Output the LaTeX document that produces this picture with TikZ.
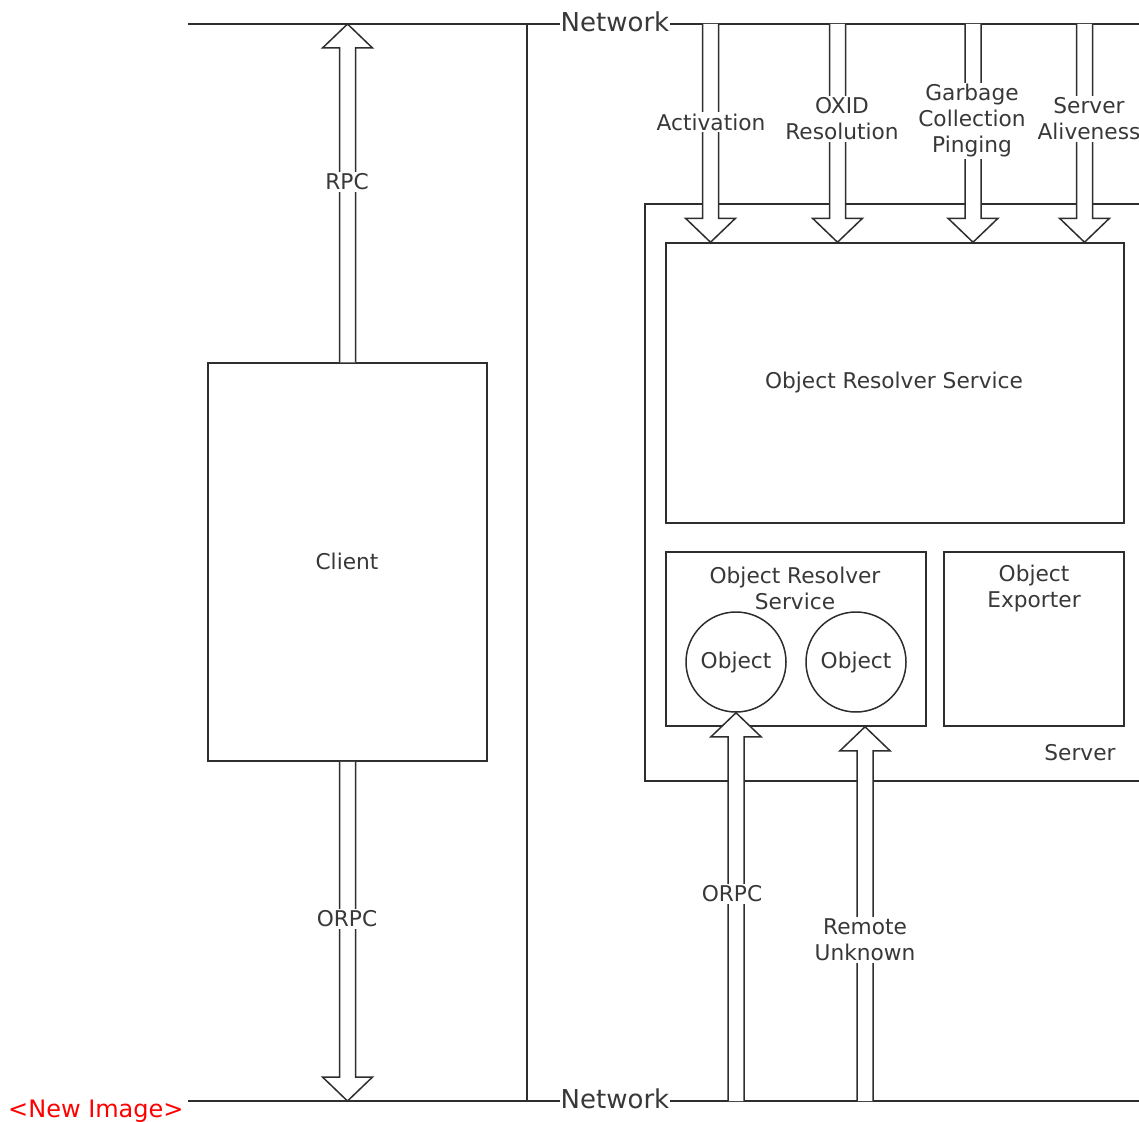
\documentclass[tikz,border=0pt]{standalone}
\usepackage{fontspec}
\setmainfont{DejaVu Sans}
\usetikzlibrary{calc}

\definecolor{ink}{gray}{0.18}
\definecolor{txt}{gray}{0.22}

\tikzset{
  line/.style={draw=ink, line width=1.5pt},
  box/.style={line, fill=white, inner sep=0pt},
  lbl/.style={text=txt, font=\fontsize{21.7}{26}\selectfont, align=center, inner sep=1.5pt},
  lblbg/.style={lbl, fill=white},
  netlbl/.style={text=txt, font=\fontsize{26}{30}\selectfont, fill=white, inner sep=1pt},
  % hollow block arrow from the start point towards a target above it
  blockup/.style={line, fill=white, line join=miter,
    to path={let \p1=(\tikztostart), \p2=(\tikztotarget) in
      (\x1-8pt,\y1) -- (\x1-8pt,\y2-24pt) -- (\x1-25pt,\y2-24pt) -- (\x1,\y2)
      -- (\x1+25pt,\y2-24pt) -- (\x1+8pt,\y2-24pt) -- (\x1+8pt,\y1)}},
  % hollow block arrow from the start point towards a target below it
  blockdown/.style={line, fill=white, line join=miter,
    to path={let \p1=(\tikztostart), \p2=(\tikztotarget) in
      (\x1-8pt,\y1) -- (\x1-8pt,\y2+24pt) -- (\x1-25pt,\y2+24pt) -- (\x1,\y2)
      -- (\x1+25pt,\y2+24pt) -- (\x1+8pt,\y2+24pt) -- (\x1+8pt,\y1)}},
}

\begin{document}
\begin{tikzpicture}[x=1pt, y=-1pt]
  \clip (0,0) rectangle (1139,1121);
  \fill[white] (0,0) rectangle (1139,1121);

  % network rails and divider
  \coordinate (ntl) at (188,24);
  \coordinate (ntr) at (1160,24);
  \coordinate (nbl) at (188,1101);
  \coordinate (nbr) at (1160,1101);
  \coordinate (dtop) at (527,24);
  \coordinate (dbot) at (527,1101);
  \draw[line] (ntl) -- (ntr);
  \draw[line] (nbl) -- (nbr);
  \draw[line] (dtop) -- (dbot);
  \node[netlbl] (nettop) at (615,22) {Network};
  \node[netlbl] (netbot) at (615,1099) {Network};

  \node[anchor=base west, text=red, font=\fontsize{24}{28}\selectfont, inner sep=0pt]
    (newimg) at (8,1117) {<New Image>};

  % client side
  \node[box, minimum width=279pt, minimum height=398pt] (client) at (347.5,562) {};
  \node[lbl] (clientlbl) at (347,561) {Client};
  \coordinate (rpctip) at (347.5,24);
  \coordinate (orpctip) at (347.5,1101);
  \draw[blockup] (client.north) to (rpctip);
  \draw[blockdown] (client.south) to (orpctip);
  \node[lblbg] (rpclbl) at (347,182) {RPC};
  \node[lblbg] (corpclbl) at (347,919) {ORPC};

  % server side
  \node[box, minimum width=515pt, minimum height=577pt] (server) at (902.5,492.5) {};
  \node[lbl] (serverlbl) at (1080,753) {Server};
  \node[box, minimum width=458pt, minimum height=280pt] (ors) at (895,383) {};
  \node[lbl] (orslbl) at (894,383) {Object Resolver Service};
  \node[box, minimum width=260pt, minimum height=174pt] (orss) at (796,639) {};
  \node[lbl] (orsslbl) at (795,588) {Object Resolver\\Service};
  \node[box, minimum width=180pt, minimum height=174pt] (oexp) at (1034,639) {};
  \node[lbl] (oexplbl) at (1034,589) {Object\\Exporter};
  \node[box, circle, minimum size=100pt] (obj1) at (736,662) {};
  \node[box, circle, minimum size=100pt] (obj2) at (856,662) {};
  \node[lbl] (obj1lbl) at (736,663) {Object};
  \node[lbl] (obj2lbl) at (856,663) {Object};

  % incoming calls from the network
  \coordinate (actin) at (710.5,24);
  \coordinate (oxin) at (837.5,24);
  \coordinate (gcin) at (973,24);
  \coordinate (alin) at (1084.5,24);
  \draw[blockdown] (actin) to (actin |- ors.north);
  \draw[blockdown] (oxin) to (oxin |- ors.north);
  \draw[blockdown] (gcin) to (gcin |- ors.north);
  \draw[blockdown] (alin) to (alin |- ors.north);
  \node[lblbg] (actlbl) at (711,122) {Activation};
  \node[lblbg] (oxlbl) at (842,119) {OXID\\Resolution};
  \node[lblbg] (gclbl) at (972,121) {Garbage\\Collection\\Pinging};
  \node[lblbg] (allbl) at (1089,119) {Server\\Aliveness};

  % object calls arriving from below
  \coordinate (orpcin) at (736,1101);
  \coordinate (remin) at (865,1101);
  \draw[blockup] (orpcin) to (obj1.south);
  \draw[blockup] (remin) to (remin |- orss.south);
  \node[lblbg] (sorpclbl) at (732,894) {ORPC};
  \node[lblbg] (remlbl) at (865,940) {Remote\\Unknown};
\end{tikzpicture}
\end{document}
